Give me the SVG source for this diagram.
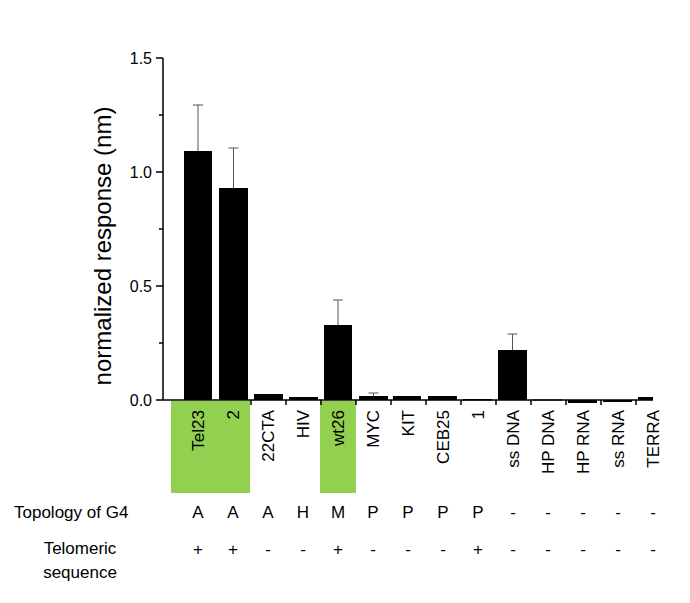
<svg xmlns="http://www.w3.org/2000/svg" width="690" height="603" viewBox="0 0 690 603">
<style>
text{font-family:"Liberation Sans",Arial,sans-serif;fill:#000}
.t{font-size:16px}
.lab{font-size:17px;text-anchor:end}
.c{text-anchor:middle;font-size:17px}
.ax{stroke:#000;stroke-width:1.5;fill:none}
.err{stroke:#555;stroke-width:1;fill:none}
.bar{fill:#000}
.g{fill:#92d050}
</style>
<rect width="690" height="603" fill="#fff"/>
<g id="highlights">
<rect class="g" x="171" y="401" width="79" height="92"/>
<rect class="g" x="320" y="401" width="36" height="92"/>
</g>
<g id="axes">
<path class="ax" d="M163 58V400H653"/>
<path class="ax" d="M156 58H163M156 172H163M156 286H163M156 400H163M159 115H163M159 229H163M159 343H163"/>
<path class="ax" d="M251 400v5M286 400v5M321 400v5M356 400v5M391 400v5M426 400v5M461 400v5M496 400v5M531 400v5M566 400v5M601 400v5M636 400v5"/>
<text class="t" x="152" y="64" text-anchor="end">1.5</text>
<text class="t" x="152" y="178" text-anchor="end">1.0</text>
<text class="t" x="152" y="292" text-anchor="end">0.5</text>
<text class="t" x="152" y="406" text-anchor="end">0.0</text>
<text x="111" y="246" font-size="24" text-anchor="middle" transform="rotate(-90 111 246)">normalized response (nm)</text>
</g>
<g id="bars">
<rect class="bar" x="184" y="151" width="28" height="249"/>
<rect class="bar" x="219" y="188" width="29" height="212"/>
<rect class="bar" x="254" y="394" width="29" height="6"/>
<rect class="bar" x="289" y="397" width="29" height="3"/>
<rect class="bar" x="324" y="325" width="28" height="75"/>
<rect class="bar" x="359" y="396" width="29" height="4"/>
<rect class="bar" x="393" y="396" width="28" height="4"/>
<rect class="bar" x="428" y="396" width="29" height="4"/>
<rect class="bar" x="463" y="399" width="29" height="1.5"/>
<rect class="bar" x="498" y="350" width="29" height="50"/>
<rect class="bar" x="533" y="399.5" width="29" height="1"/>
<rect class="bar" x="568" y="400" width="29" height="3"/>
<rect class="bar" x="603" y="400" width="29" height="2"/>
<rect class="bar" x="638" y="397" width="15" height="3"/>
</g>
<g id="errorbars">
<path class="err" d="M198 151V105M193 105H203"/>
<path class="err" d="M233.5 188V148M228.5 148H238.5"/>
<path class="err" d="M338 325V300M333 300H343"/>
<path class="err" d="M373.5 396V393M368.5 393H378.5"/>
<path class="err" d="M512.5 350V334M507.5 334H517.5"/>
</g>
<g id="labels">
<text class="lab" transform="translate(204 410) rotate(-90)">Tel23</text>
<text class="lab" transform="translate(239 410) rotate(-90)">2</text>
<text class="lab" transform="translate(274 410) rotate(-90)">22CTA</text>
<text class="lab" transform="translate(309 410) rotate(-90)">HIV</text>
<text class="lab" transform="translate(344 410) rotate(-90)">wt26</text>
<text class="lab" transform="translate(379 410) rotate(-90)">MYC</text>
<text class="lab" transform="translate(414 410) rotate(-90)">KIT</text>
<text class="lab" transform="translate(449 410) rotate(-90)">CEB25</text>
<text class="lab" transform="translate(484 410) rotate(-90)">1</text>
<text class="lab" transform="translate(519 410) rotate(-90)">ss DNA</text>
<text class="lab" transform="translate(554 410) rotate(-90)">HP DNA</text>
<text class="lab" transform="translate(589 410) rotate(-90)">HP RNA</text>
<text class="lab" transform="translate(624 410) rotate(-90)">ss RNA</text>
<text class="lab" transform="translate(659 410) rotate(-90)">TERRA</text>
</g>
<g id="table">
<text x="14" y="518" font-size="17">Topology of G4</text>
<text class="c" x="80" y="554">Telomeric</text>
<text class="c" x="80" y="578">sequence</text>
<text class="c" x="198" y="518">A</text><text class="c" x="233" y="518">A</text><text class="c" x="268" y="518">A</text><text class="c" x="303" y="518">H</text><text class="c" x="338" y="518">M</text><text class="c" x="373" y="518">P</text><text class="c" x="408" y="518">P</text><text class="c" x="443" y="518">P</text><text class="c" x="478" y="518">P</text><text class="c" x="513" y="518">-</text><text class="c" x="548" y="518">-</text><text class="c" x="583" y="518">-</text><text class="c" x="618" y="518">-</text><text class="c" x="653" y="518">-</text>
<text class="c" x="198" y="555">+</text><text class="c" x="233" y="555">+</text><text class="c" x="268" y="555">-</text><text class="c" x="303" y="555">-</text><text class="c" x="338" y="555">+</text><text class="c" x="373" y="555">-</text><text class="c" x="408" y="555">-</text><text class="c" x="443" y="555">-</text><text class="c" x="478" y="555">+</text><text class="c" x="513" y="555">-</text><text class="c" x="548" y="555">-</text><text class="c" x="583" y="555">-</text><text class="c" x="618" y="555">-</text><text class="c" x="653" y="555">-</text>
</g>
</svg>
